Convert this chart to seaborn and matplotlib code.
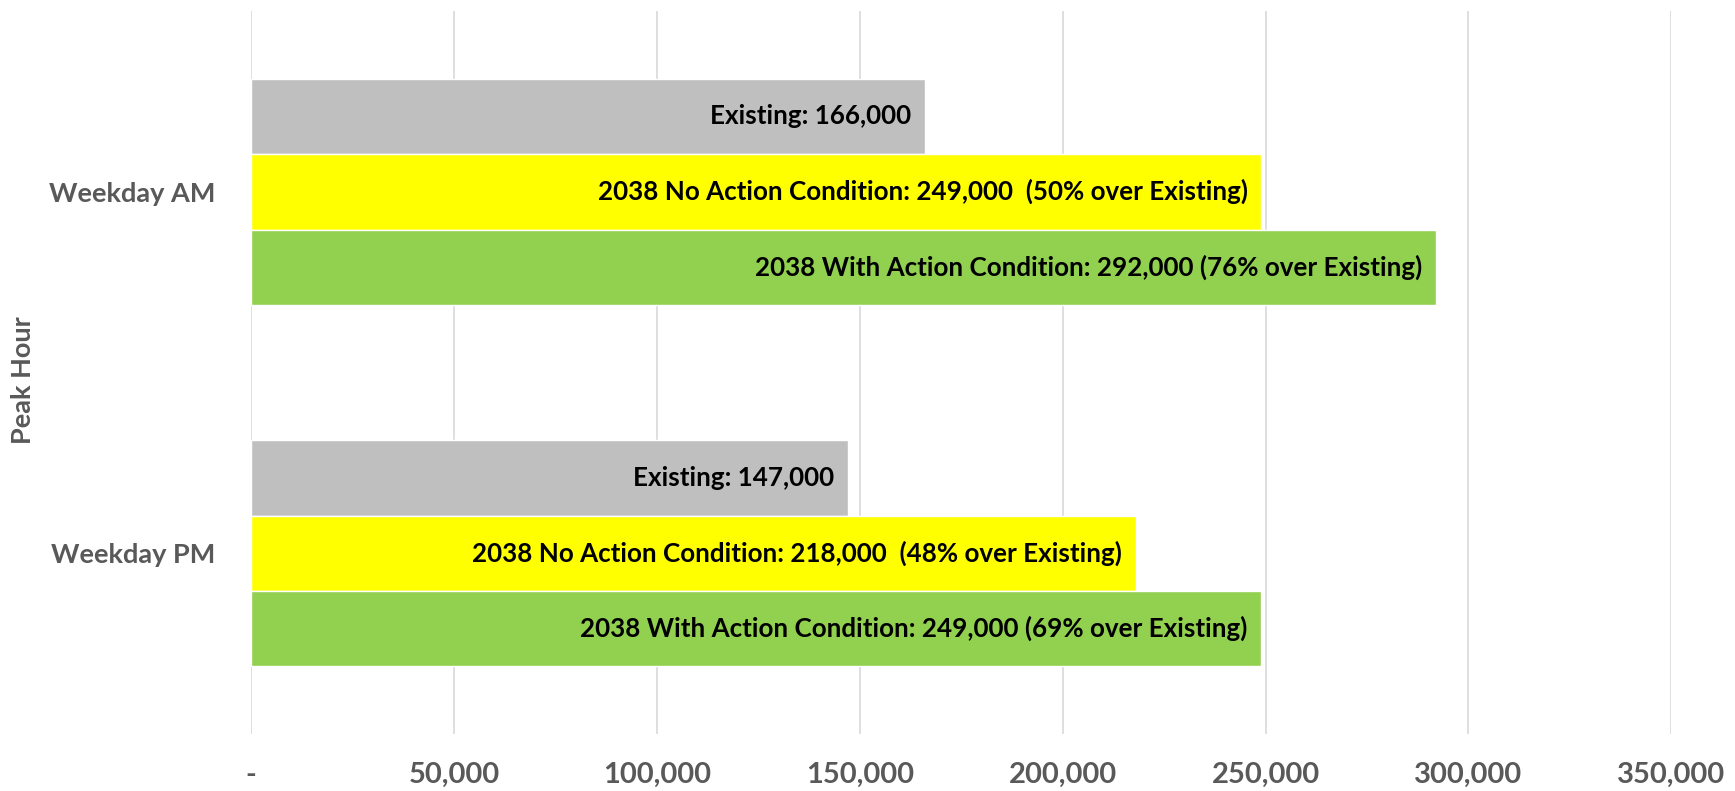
import matplotlib
matplotlib.use("Agg")
from matplotlib import pyplot as plt
from matplotlib.ticker import FuncFormatter
import pandas as pd
import seaborn as sns

# data
periods = ["Weekday AM", "Weekday PM"]
scenarios = ["Existing", "2038 No Action Condition", "2038 With Action Condition"]
existing = [166000, 147000]
no_action = [249000, 218000]
with_action = [292000, 249000]
colors = ["#BFBFBF", "#FFFF00", "#92D050"]
x_ticks = [0, 50000, 100000, 150000, 200000, 250000, 300000, 350000]

rows = []
for i, p in enumerate(periods):
  rows.append((p, scenarios[0], existing[i]))
  rows.append((p, scenarios[1], no_action[i]))
  rows.append((p, scenarios[2], with_action[i]))
df = pd.DataFrame(rows, columns=["period", "scenario", "value"])

sns.set_style("white")
plt.rcParams["font.family"] = ["Lato", "DejaVu Sans"]

fig = plt.figure(figsize=(17.35, 7.91), dpi=100)
ax = fig.add_axes([0.1447, 0.072, 0.8186, 0.914])

sns.barplot(data=df, y="period", x="value", hue="scenario", orient="h",
            hue_order=scenarios, palette=colors, saturation=1,
            width=0.626, legend=False, ax=ax, zorder=2)

# bar labels
for k, cont in enumerate(ax.containers):
  for i, bar in enumerate(cont):
    v = bar.get_width()
    if k == 0:
      txt = f"Existing: {v:,.0f}"
    else:
      pct = round((v / existing[i] - 1) * 100)
      name = scenarios[k]
      sep = "  " if k == 1 else " "
      txt = f"{name}: {v:,.0f}{sep}({pct}% over Existing)"
    ax.annotate(txt, (v, bar.get_y() + bar.get_height() / 2),
                xytext=(-10, 0), textcoords="offset points",
                ha="right", va="center", fontsize=18.7, fontweight="bold",
                color="black", zorder=3)

ax.set_xlim(0, 350000)
ax.set_ylim(1.5, -0.5)
ax.set_xticks(x_ticks)
ax.xaxis.set_major_formatter(FuncFormatter(lambda v, p: "-" if v == 0 else f"{v:,.0f}"))
ax.grid(axis="x", color="#D9D9D9", linewidth=1.2, zorder=0)
ax.grid(axis="y", visible=False)
ax.set_axisbelow(True)
for s in ax.spines.values():
  s.set_visible(False)
ax.tick_params(axis="both", length=0)
ax.tick_params(axis="x", pad=20)
ax.tick_params(axis="y", pad=26)
for lab in ax.get_xticklabels():
  lab.set_fontsize(21)
  lab.set_fontweight("bold")
  lab.set_color("#595959")
for lab in ax.get_yticklabels():
  lab.set_fontsize(19.5)
  lab.set_fontweight("bold")
  lab.set_color("#595959")
ax.set_xlabel("")
ax.set_ylabel("Peak Hour", fontsize=19.5, fontweight="bold", color="#595959")
ax.yaxis.set_label_coords(-0.152, 0.49)

fig.savefig("out.png", dpi=100)
